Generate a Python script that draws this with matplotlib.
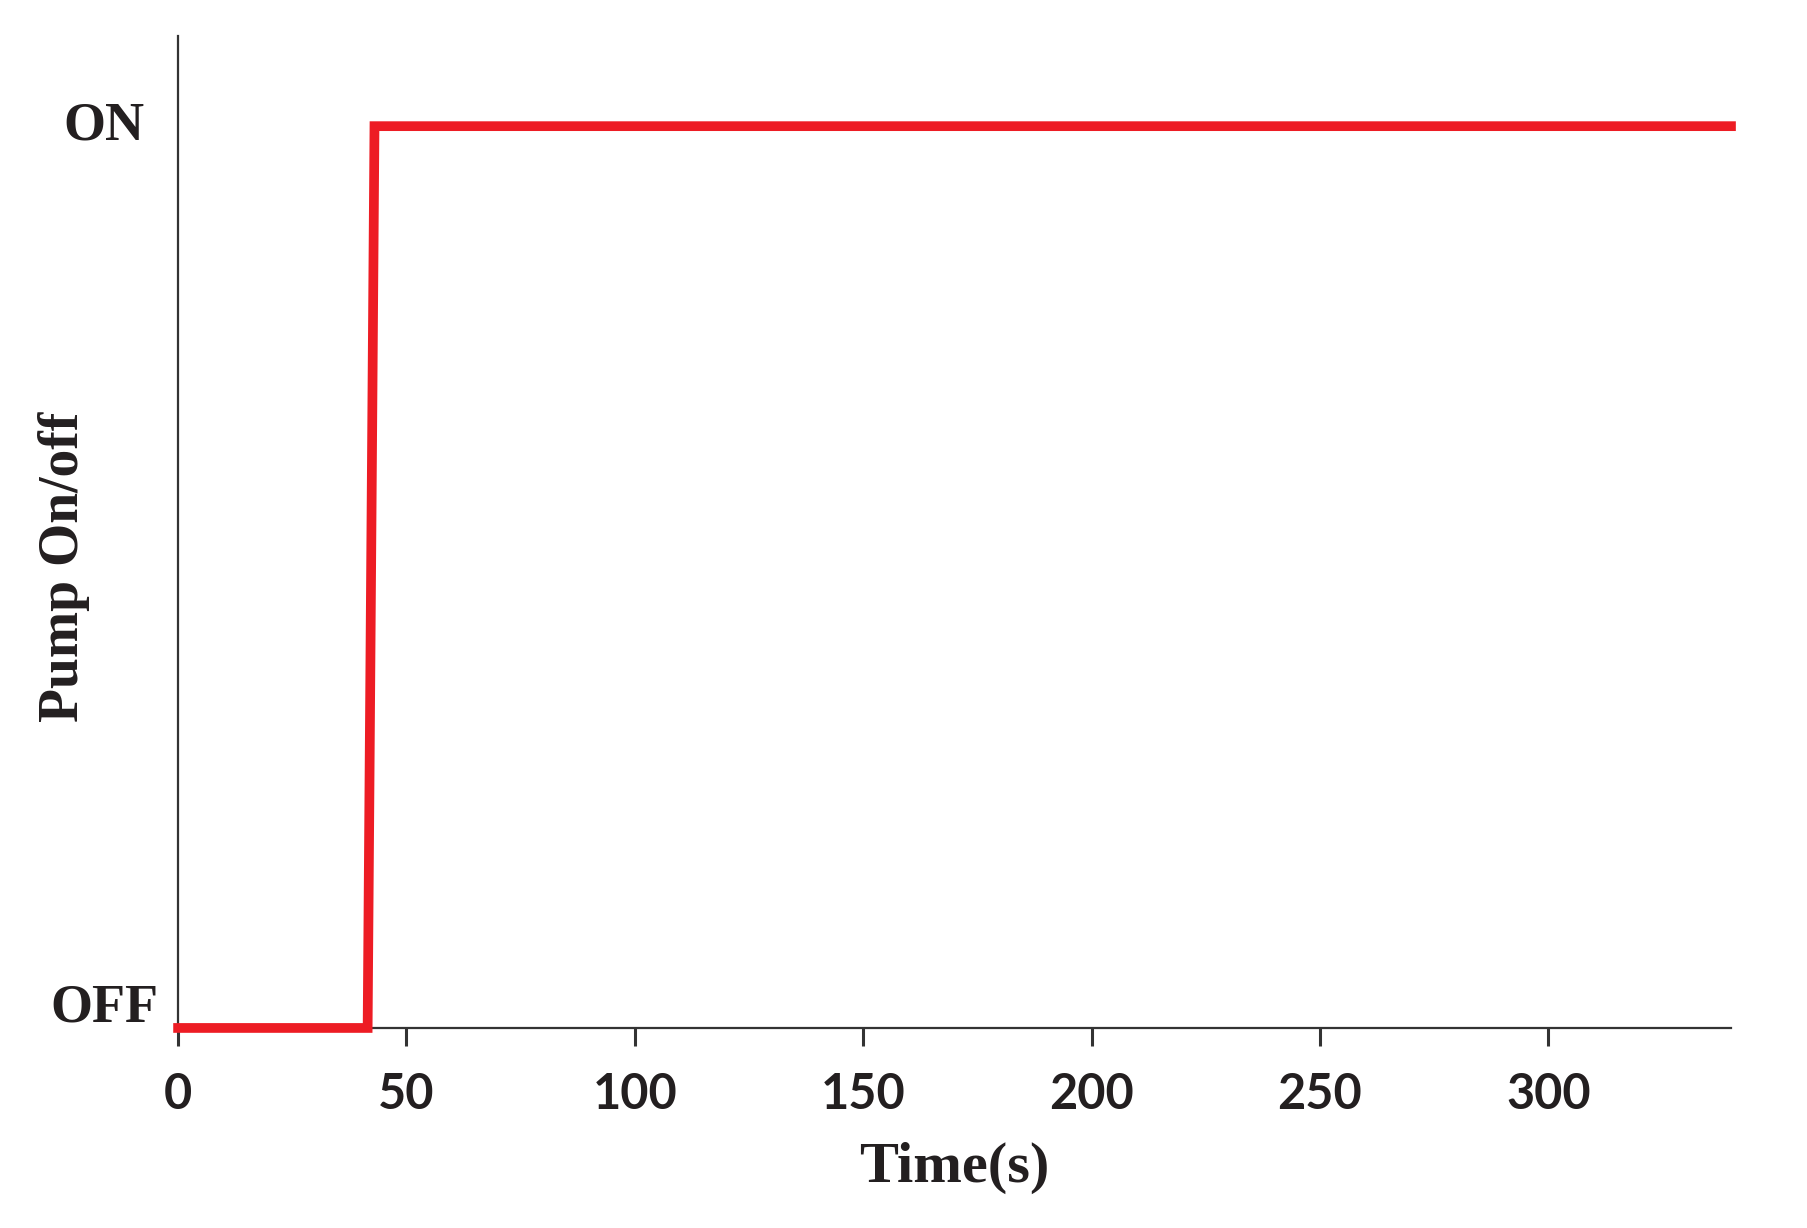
import matplotlib
matplotlib.use("Agg")
import matplotlib.pyplot as plt
import matplotlib.transforms as mtransforms

# pump state over time (0 = OFF, 1 = ON)
time = [0, 41.5, 43.0, 340]
state = [0, 0, 1, 1]
xticks = [0, 50, 100, 150, 200, 250, 300]
ylabels = ["OFF", "ON"]

fig = plt.figure(figsize=(18.08, 12.28), dpi=100)
ax = fig.add_axes([0.0985, 0.1629, 0.8589, 0.8078])

ax.plot(time, state, color="#ED1C24", linewidth=7, solid_joinstyle="miter",
        clip_on=False, zorder=5)

ax.set_xlim(0, 340)
ax.set_ylim(0, 1.1)

ax.spines["top"].set_visible(False)
ax.spines["right"].set_visible(False)
for s in ["left", "bottom"]:
    ax.spines[s].set_color("#333333")
    ax.spines[s].set_linewidth(1.6)

ax.set_xticks(xticks)
ax.set_xticklabels([str(t) for t in xticks], fontfamily="Lato",
                   fontweight="bold", fontsize=35, color="#231F20")
ax.tick_params(axis="x", direction="out", length=13, width=2.2,
               color="#333333", pad=19)

ax.set_yticks([0, 1])
ax.set_yticklabels(ylabels, fontfamily="Liberation Serif", fontweight="bold",
                   fontsize=39, color="#231F20")
ax.tick_params(axis="y", length=0, pad=24)
# nudge OFF / ON like the original
tl = ax.get_yticklabels()
tl[0].set_transform(tl[0].get_transform() +
                    mtransforms.ScaledTranslation(0.14, 0.25, fig.dpi_scale_trans))
tl[1].set_transform(tl[1].get_transform() +
                    mtransforms.ScaledTranslation(0.0, 0.06, fig.dpi_scale_trans))

ax.set_xlabel("Time(s)", fontfamily="Liberation Serif", fontweight="bold",
              fontsize=42, color="#231F20")
ax.xaxis.set_label_coords(0.5, -0.115)
ax.set_ylabel("Pump On/off", fontfamily="Liberation Serif", fontweight="bold",
              fontsize=40, color="#231F20")
ax.yaxis.set_label_coords(-0.057, 0.465)

fig.savefig("out.png", dpi=100)
